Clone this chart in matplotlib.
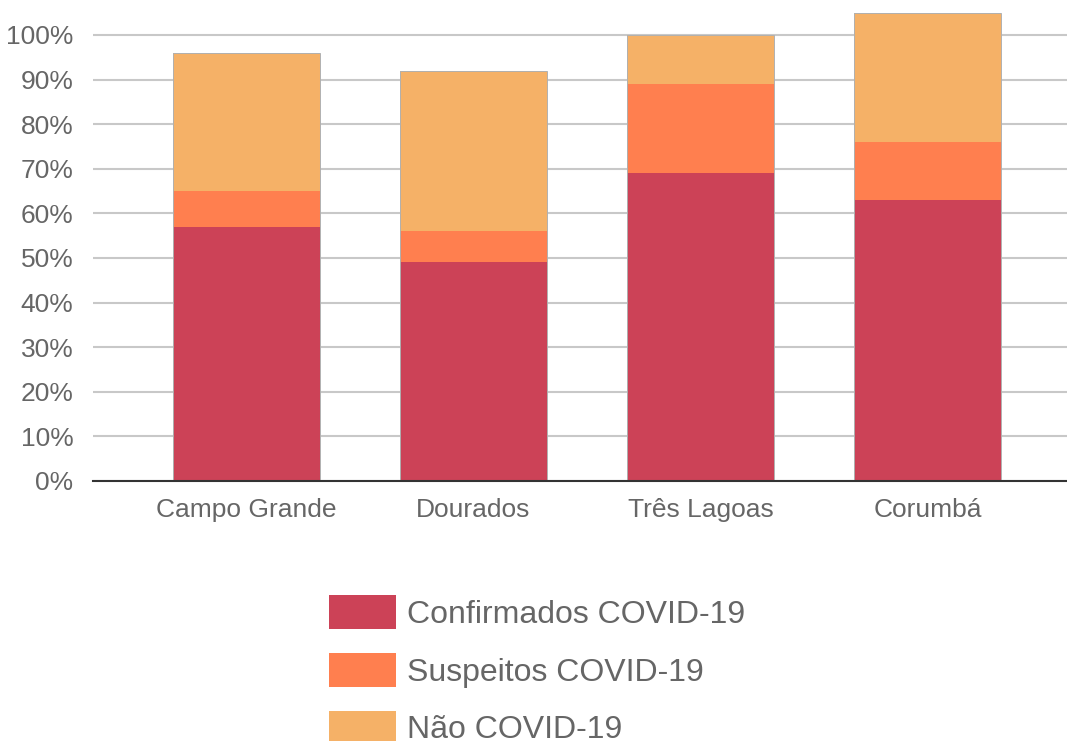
import matplotlib.pyplot as plt
import numpy as np

plt.rcParams['font.family'] = ['Liberation Sans', 'DejaVu Sans']

# dados (%)
cidades = ['Campo Grande', 'Dourados', 'Três Lagoas', 'Corumbá']
confirmados = [57, 49, 69, 63]
suspeitos = [8, 7, 20, 13]
nao_covid = [31, 36, 11, 29]
series = ['Confirmados COVID-19', 'Suspeitos COVID-19', 'Não COVID-19']
cores = ['#CC4257', '#FF7F4F', '#F5B167']

fig = plt.figure(figsize=(10.67, 7.41), dpi=100)
ax = fig.add_axes([93 / 1067, 1 - 481 / 741, 1 - 93 / 1067, (481 - 12.7) / 741])

x = np.arange(len(cidades))
base = np.zeros(len(cidades))
for vals, nome, cor in zip([confirmados, suspeitos, nao_covid], series, cores):
    ax.bar(x, vals, bottom=base, width=0.648, color=cor, label=nome,
           linewidth=0, zorder=3)
    base += np.array(vals)
# contorno de cada pilha
ax.bar(x, base, width=0.648, fill=False, edgecolor='#B0B0B0', linewidth=0.7, zorder=3)

ax.set_xlim(-0.676, 3.615)
ax.set_ylim(0, 105)
ax.set_yticks(range(0, 101, 10))
ax.set_yticklabels(['%d%%' % v for v in range(0, 101, 10)])
ax.set_xticks(x)
ax.set_xticklabels(cidades)
ax.tick_params(axis='both', length=0, labelsize=19, colors='#666666')
ax.tick_params(axis='y', pad=14)
ax.tick_params(axis='x', pad=12)
ax.yaxis.grid(True, color='#C8C8C8', linewidth=1.5, zorder=0)
ax.set_axisbelow(True)
for s in ['top', 'right', 'left']:
    ax.spines[s].set_visible(False)
ax.spines['bottom'].set_color('#333333')
ax.spines['bottom'].set_linewidth(1.5)
ax.spines['bottom'].set_zorder(4)

handles, labels = ax.get_legend_handles_labels()
leg = fig.legend(handles[:3], labels[:3], loc='upper left',
                 bbox_to_anchor=(329 / 1067, 1 - 595 / 741),
                 frameon=False, fontsize=23, handlelength=2.1, handleheight=1.27,
                 handletextpad=0.35, labelspacing=0.72, borderpad=0, borderaxespad=0)
for t in leg.get_texts():
    t.set_color('#666666')

fig.savefig('out.png', dpi=100)
